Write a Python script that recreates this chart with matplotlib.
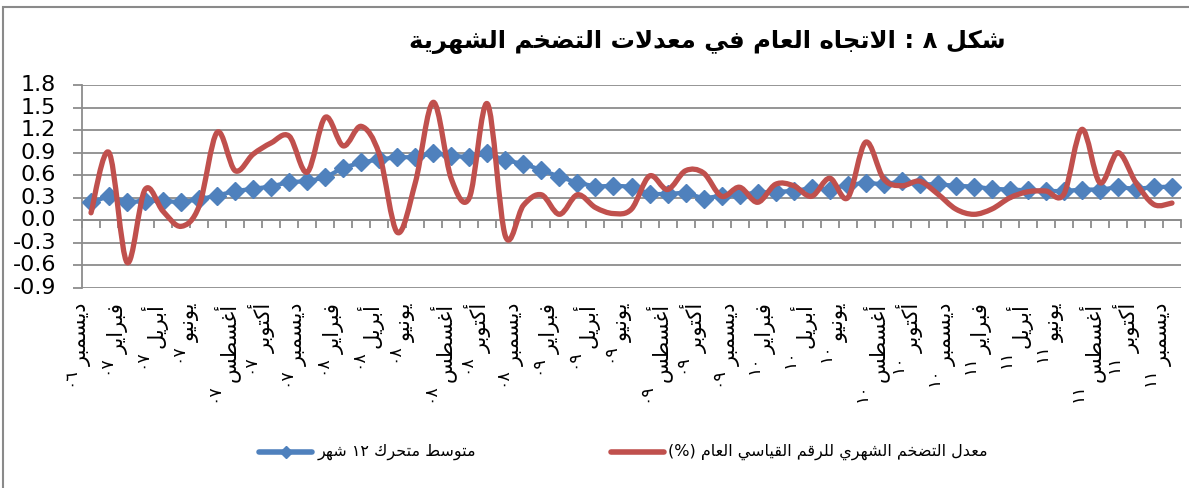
import re
import numpy as np
import matplotlib
matplotlib.use("Agg")
import matplotlib.pyplot as plt
from matplotlib.path import Path
from matplotlib.patches import PathPatch, Rectangle
from matplotlib.lines import Line2D
from matplotlib.transforms import blended_transform_factory

plt.rcParams['axes.unicode_minus'] = False

# ---------------- data ----------------
title_text = "شكل ٨ : الاتجاه العام في معدلات التضخم الشهرية"
series_ma_name = "متوسط متحرك ١٢ شهر"
series_m_name = "معدل التضخم الشهري للرقم القياسي العام (%)"

# months Dec-2006 .. Dec-2011 (61 points)
moving_avg = [0.24, 0.32, 0.24, 0.26, 0.26, 0.24, 0.28, 0.33, 0.39, 0.42,
              0.45, 0.51, 0.52, 0.57, 0.70, 0.77, 0.81, 0.84, 0.84, 0.89,
              0.86, 0.84, 0.89, 0.80, 0.75, 0.67, 0.58, 0.50, 0.45, 0.46,
              0.45, 0.35, 0.35, 0.37, 0.29, 0.33, 0.34, 0.37, 0.38, 0.39,
              0.43, 0.41, 0.47, 0.50, 0.48, 0.52, 0.48, 0.48, 0.46, 0.45,
              0.42, 0.41, 0.40, 0.39, 0.39, 0.41, 0.41, 0.44, 0.42, 0.44, 0.45]
monthly = [0.10, 0.90, -0.56, 0.41, 0.12, -0.08, 0.19, 1.17, 0.66, 0.88,
           1.03, 1.12, 0.64, 1.37, 0.99, 1.25, 0.88, -0.16, 0.50, 1.57,
           0.55, 0.30, 1.55, -0.21, 0.20, 0.34, 0.08, 0.34, 0.17, 0.09,
           0.15, 0.59, 0.41, 0.66, 0.63, 0.32, 0.44, 0.24, 0.48, 0.46,
           0.32, 0.56, 0.30, 1.04, 0.55, 0.46, 0.52, 0.35, 0.15, 0.08,
           0.15, 0.30, 0.38, 0.39, 0.35, 1.21, 0.50, 0.90, 0.50, 0.21, 0.23]

label_months = ["ديسمبر"] + ["فبراير", "أبريل", "يونيو", "أغسطس", "أكتوبر", "ديسمبر"] * 5
label_years = ["٠٦"] + ["٠٧"] * 6 + ["٠٨"] * 6 + ["٠٩"] * 6 + ["١٠"] * 6 + ["١١"] * 6
y_ticks = [-0.9, -0.6, -0.3, 0.0, 0.3, 0.6, 0.9, 1.2, 1.5, 1.8]

# ---------------- arabic shaping (presentation forms) ----------------
FORMS = {
    '\u0627': ('\uFE8D', '\uFE8E', None, None),
    '\u0623': ('\uFE83', '\uFE84', None, None),
    '\u0628': ('\uFE8F', '\uFE90', '\uFE91', '\uFE92'),
    '\u0629': ('\uFE93', '\uFE94', None, None),
    '\u062A': ('\uFE95', '\uFE96', '\uFE97', '\uFE98'),
    '\u062C': ('\uFE9D', '\uFE9E', '\uFE9F', '\uFEA0'),
    '\u062D': ('\uFEA1', '\uFEA2', '\uFEA3', '\uFEA4'),
    '\u062E': ('\uFEA5', '\uFEA6', '\uFEA7', '\uFEA8'),
    '\u062F': ('\uFEA9', '\uFEAA', None, None),
    '\u0631': ('\uFEAD', '\uFEAE', None, None),
    '\u0633': ('\uFEB1', '\uFEB2', '\uFEB3', '\uFEB4'),
    '\u0634': ('\uFEB5', '\uFEB6', '\uFEB7', '\uFEB8'),
    '\u0636': ('\uFEBD', '\uFEBE', '\uFEBF', '\uFEC0'),
    '\u0637': ('\uFEC1', '\uFEC2', '\uFEC3', '\uFEC4'),
    '\u0639': ('\uFEC9', '\uFECA', '\uFECB', '\uFECC'),
    '\u063A': ('\uFECD', '\uFECE', '\uFECF', '\uFED0'),
    '\u0641': ('\uFED1', '\uFED2', '\uFED3', '\uFED4'),
    '\u0642': ('\uFED5', '\uFED6', '\uFED7', '\uFED8'),
    '\u0643': ('\uFED9', '\uFEDA', '\uFEDB', '\uFEDC'),
    '\u0644': ('\uFEDD', '\uFEDE', '\uFEDF', '\uFEE0'),
    '\u0645': ('\uFEE1', '\uFEE2', '\uFEE3', '\uFEE4'),
    '\u0646': ('\uFEE5', '\uFEE6', '\uFEE7', '\uFEE8'),
    '\u0647': ('\uFEE9', '\uFEEA', '\uFEEB', '\uFEEC'),
    '\u0648': ('\uFEED', '\uFEEE', None, None),
    '\u064A': ('\uFEF1', '\uFEF2', '\uFEF3', '\uFEF4'),
}
LAM_ALEF = {'\u0627': ('\uFEFB', '\uFEFC'), '\u0623': ('\uFEF7', '\uFEF8')}


def _dual(c):
    return c in FORMS and FORMS[c][2] is not None


def shape(s):
    ch = list(s)
    n = len(ch)
    res = []
    i = 0
    while i < n:
        c = ch[i]
        if c == '\u0644' and i + 1 < n and ch[i + 1] in LAM_ALEF:
            pj = i > 0 and _dual(ch[i - 1])
            iso, fin = LAM_ALEF[ch[i + 1]]
            res.append(fin if pj else iso)
            i += 2
            continue
        if c in FORMS:
            f = FORMS[c]
            pj = i > 0 and _dual(ch[i - 1])
            nj = _dual(c) and i + 1 < n and ch[i + 1] in FORMS
            if pj and nj:
                g = f[3]
            elif pj:
                g = f[1]
            elif nj:
                g = f[2]
            else:
                g = f[0]
            res.append(g)
        else:
            res.append(c)
        i += 1
    t = ''.join(res)[::-1]
    t = re.sub('[0-9\u0660-\u0669]+', lambda m: m.group(0)[::-1], t)
    t = t.translate(str.maketrans({'(': ')', ')': '('}))
    return t


# ---------------- figure ----------------
W, H = 1189, 488
fig = plt.figure(figsize=(W / 100, H / 100), dpi=100)
fig.patch.set_facecolor('white')

# chart border (top and left visible)
fig.add_artist(Rectangle((3 / W, -0.1), 1.2, (H - 7) / H + 0.1, transform=fig.transFigure,
                         fill=False, edgecolor='#8a8a8a', lw=1.5))

ax = fig.add_axes([82 / W, 1 - 288 / H, (1181 - 82) / W, (288 - 85) / H])
x = np.arange(len(monthly))
ax.set_xlim(-0.5, len(monthly) - 0.5)
ax.set_ylim(-0.9, 1.8)

grid_c = '#8c8c8c'
ax.set_yticks(y_ticks)
ax.set_yticklabels([])
ax.yaxis.grid(True, color=grid_c, lw=1.3)
ax.set_axisbelow(True)
ax.tick_params(axis='y', length=6.5, width=1.3, color=grid_c)
ax.set_xticks(np.arange(-0.5, len(monthly), 1.0))
ax.tick_params(axis='x', length=5.5, width=1.3, color=grid_c, labelbottom=False, direction='out')
for s in ['top', 'right']:
    ax.spines[s].set_visible(False)
ax.spines['left'].set_color(grid_c)
ax.spines['left'].set_linewidth(1.3)
ax.spines['bottom'].set_position(('data', 0))
ax.spines['bottom'].set_color(grid_c)
ax.spines['bottom'].set_linewidth(1.3)

# y tick labels, right edge at fixed pixel position
ytr = blended_transform_factory(fig.transFigure, ax.transData)
for v in y_ticks:
    ax.text(56 / W, v, f"{v:.1f}", transform=ytr, ha='right', va='center',
            fontsize=16, family='DejaVu Sans', clip_on=False)

blue = '#4F81BD'
red = '#C0504D'
ax.plot(x, moving_avg, color=blue, lw=3, marker='D', ms=9.2, mec=blue, mfc=blue, zorder=3)

# smoothed line (bezier through the points)
pts = np.column_stack([x, monthly]).astype(float)
verts = [tuple(pts[0])]
codes = [Path.MOVETO]
for i in range(len(pts) - 1):
    p0 = pts[i - 1] if i > 0 else pts[i]
    p1 = pts[i]
    p2 = pts[i + 1]
    p3 = pts[i + 2] if i + 2 < len(pts) else pts[i + 1]
    c1 = p1 + (p2 - p0) / 6.0
    c2 = p2 - (p3 - p1) / 6.0
    verts += [tuple(c1), tuple(c2), tuple(p2)]
    codes += [Path.CURVE4] * 3
ax.add_patch(PathPatch(Path(verts, codes), fill=False, edgecolor=red, lw=3.8,
                       capstyle='round', joinstyle='round', zorder=4))

# title
fig.text(707 / W, 1 - 42 / H, shape(title_text), ha='center', va='center',
         fontsize=17.5, fontweight='bold', family='DejaVu Sans')

# category labels (month column + year column)
fig.canvas.draw()
renderer = fig.canvas.get_renderer()
month_fs = 15
year_fs = 12.5
for k, (m, yv) in enumerate(zip(label_months, label_years)):
    xp = ax.transData.transform((2 * k, 0))[0]
    tm = fig.text((xp - 9) / W, 1 - 303 / H, shape(m), rotation=90, ha='center', va='top',
                  fontsize=month_fs, family='DejaVu Sans')
    bb = tm.get_window_extent(renderer)
    fig.text((xp - 22) / W, (bb.y0 - 1) / H, shape(yv), rotation=90, ha='center', va='top',
             fontsize=year_fs, family='DejaVu Sans')

# legend (manual)
ly = 1 - 452 / H
fig.add_artist(Line2D([259 / W, 312 / W], [ly, ly], transform=fig.transFigure, color=blue, lw=4,
                      solid_capstyle='round'))
fig.add_artist(Line2D([285.5 / W], [ly], transform=fig.transFigure, color=blue, marker='D', ms=6,
                      mec=blue))
fig.text(318 / W, ly, shape(series_ma_name), ha='left', va='center', fontsize=11.5, family='DejaVu Sans')
fig.add_artist(Line2D([611 / W, 664 / W], [ly, ly], transform=fig.transFigure, color=red, lw=4,
                      solid_capstyle='round'))
fig.text(668 / W, ly, shape(series_m_name), ha='left', va='center', fontsize=11.5, family='DejaVu Sans')

fig.savefig('out.png', dpi=100)
